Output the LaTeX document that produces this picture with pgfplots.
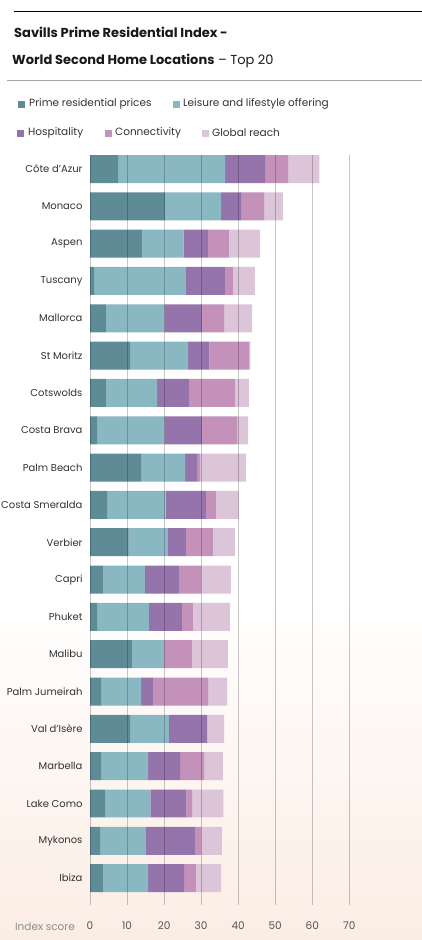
\documentclass[border=0pt]{standalone}
\usepackage{pgfplots}
\pgfplotsset{compat=1.18}
\usepackage{fontspec}
\setmainfont{Poppins}

\definecolor{cPrime}{HTML}{5E8B95}
\definecolor{cLeisure}{HTML}{89B8C2}
\definecolor{cHosp}{HTML}{9474AA}
\definecolor{cConn}{HTML}{C491BB}
\definecolor{cGlob}{HTML}{DCC4D9}
\definecolor{peach}{HTML}{FBEDE4}
\definecolor{txtdark}{HTML}{333333}
\definecolor{txtgray}{HTML}{555555}

% idx prime leisure hospitality connectivity global
\pgfplotstableread{
idx prime leisure hosp conn glob
0  7.6 28.9 10.8  6.2  8.4
1 20.2 15.2  5.4  6.2  5.1
2 14.0 11.3  6.5  5.7  8.4
3  1.1 24.8 10.5  2.2  5.9
4  4.3 15.8 10.1  6.0  7.6
5 10.8 15.7  5.7 10.8  0.3
6  4.3 13.8  8.6 12.4  3.8
7  1.9 18.2 10.1  9.5  3.0
8 13.8 11.9  3.2  0.8 12.4
9  4.6 15.8 10.9  2.7  6.1
10 10.4 10.6 4.9  7.3  5.9
11  3.5 11.3 9.2  6.1  7.9
12  1.9 14.0 8.9  3.0 10.0
13 11.3  8.7 0.0  7.5  9.7
14  3.0 10.8 3.2 14.9  5.1
15 10.8 10.5 10.3 0.0  4.6
16  3.0 12.7 8.6  6.5  5.1
17  4.1 12.2 9.7  1.6  8.4
18  2.7 12.4 13.2 1.7  5.6
19  3.5 12.2 9.7  3.2  6.8
}\datatable

\begin{document}
\begin{tikzpicture}
\useasboundingbox (0,0) rectangle (422pt,-940pt);
% page and background
\fill[white] (0,0) rectangle (422pt,-940pt);
\shade[top color=white, bottom color=peach] (0,-600pt) rectangle (422pt,-940pt);

% title block
\draw[black, line width=0.9pt] (14pt,-11pt) -- (422pt,-11pt);
\node[anchor=west, inner sep=0, font=\fontsize{13}{16}\selectfont\bfseries, text=black!90]
  at (14pt,-32pt) {Savills Prime Residential Index -};
\node[anchor=west, inner sep=0, font=\fontsize{13}{16}\selectfont, text=black!90]
  at (12pt,-61pt) {\textbf{World Second Home Locations} – Top 20};
\draw[black!35, line width=0.8pt] (7pt,-80pt) -- (422pt,-80pt);

% legend
\begin{scope}[font=\fontsize{10.5}{12}\selectfont, text=txtdark]
\fill[cPrime] (18pt,-100.5pt) rectangle (25pt,-107.5pt);
\node[anchor=west, inner sep=0] at (29pt,-104pt) {Prime residential prices};
\fill[cLeisure] (173pt,-100.5pt) rectangle (180pt,-107.5pt);
\node[anchor=west, inner sep=0] at (183pt,-104pt) {Leisure and lifestyle offering};
\fill[cHosp] (17pt,-129.5pt) rectangle (24pt,-136.5pt);
\node[anchor=west, inner sep=0] at (28pt,-133pt) {Hospitality};
\fill[cConn] (105pt,-129.5pt) rectangle (112pt,-136.5pt);
\node[anchor=west, inner sep=0] at (115pt,-133pt) {Connectivity};
\fill[cGlob] (202pt,-129.5pt) rectangle (209pt,-136.5pt);
\node[anchor=west, inner sep=0] at (212pt,-133pt) {Global reach};
\end{scope}

\begin{axis}[
  at={(90pt,-155pt)}, anchor=north west,
  scale only axis, width=259.3pt, height=750pt,
  xbar stacked, bar width=0.75,
  xmin=0, xmax=70, ymin=-0.375, ymax=19.72,
  y dir=reverse,
  xtick={0,10,...,70},
  ytick={0,...,19},
  yticklabels={Côte d’Azur, Monaco, Aspen, Tuscany, Mallorca, St Moritz, Cotswolds, Costa Brava, Palm Beach, Costa Smeralda, Verbier, Capri, Phuket, Malibu, Palm Jumeirah, Val d’Isère, Marbella, Lake Como, Mykonos, Ibiza},
  axis line style={draw=none},
  major tick length=0,
  xmajorgrids,
  grid style={black, opacity=0.22, line width=0.8pt},
  axis on top,
  /pgf/number format/assume math mode=true,
  xticklabel style={font=\fontsize{10.5}{13}\selectfont, text=txtgray, yshift=-13pt},
  yticklabel style={font=\fontsize{10}{13}\selectfont, text=txtdark, xshift=-4pt},
  clip=false,
]
\addplot[fill=cPrime, draw=none] table[x=prime, y=idx] {\datatable};
\addplot[fill=cLeisure, draw=none] table[x=leisure, y=idx] {\datatable};
\addplot[fill=cHosp, draw=none] table[x=hosp, y=idx] {\datatable};
\addplot[fill=cConn, draw=none] table[x=conn, y=idx] {\datatable};
\addplot[fill=cGlob, draw=none] table[x=glob, y=idx] {\datatable};
\end{axis}

\node[font=\fontsize{10.5}{13}\selectfont, text=black!45, inner sep=0] at (45pt,-927pt) {Index score};
\end{tikzpicture}
\end{document}
